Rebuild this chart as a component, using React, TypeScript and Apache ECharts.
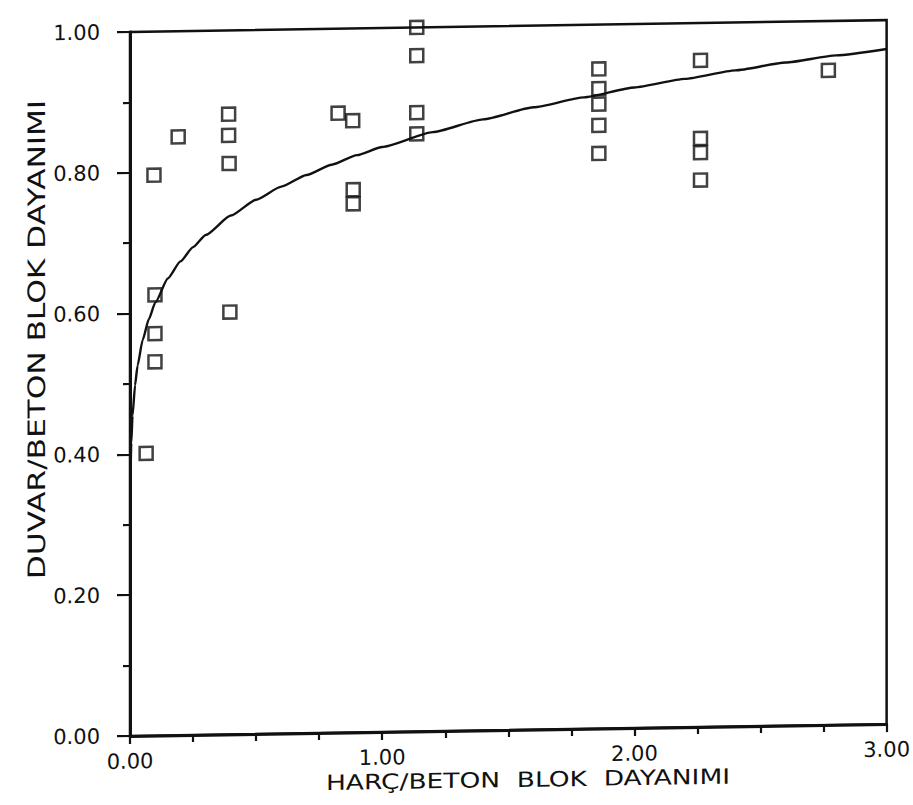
import React, { useEffect, useRef } from "react";
import * as echarts from "echarts";

// Measured points (HARÇ/BETON BLOK DAYANIMI, DUVAR/BETON BLOK DAYANIMI)
const pointX = [
  0.064, 0.095, 0.099, 0.099, 0.099, 0.191, 0.391, 0.391, 0.393, 0.396,
  0.825, 0.883, 0.885, 0.885, 1.137, 1.137, 1.137, 1.137,
  1.859, 1.859, 1.859, 1.859, 1.859, 2.262, 2.262, 2.262, 2.262, 2.769,
];
const pointY = [
  0.401, 0.796, 0.626, 0.571, 0.531, 0.85, 0.881, 0.851, 0.811, 0.6,
  0.88, 0.869, 0.771, 0.751, 1.0, 0.96, 0.879, 0.849,
  0.937, 0.909, 0.887, 0.857, 0.817, 0.947, 0.836, 0.816, 0.777, 0.93,
];

// Fitted curve
const curveX = [
  0.002, 0.005, 0.01, 0.02, 0.03, 0.05, 0.075, 0.1, 0.15, 0.2, 0.25, 0.3,
  0.4, 0.5, 0.6, 0.7, 0.8, 0.9, 1.0, 1.2, 1.4, 1.6, 1.8, 2.0, 2.2, 2.4,
  2.6, 2.8, 3.0,
];
const curveY = [
  0.369, 0.416, 0.455, 0.498, 0.526, 0.562, 0.592, 0.615, 0.649, 0.673,
  0.693, 0.71, 0.737, 0.759, 0.777, 0.793, 0.807, 0.82, 0.831, 0.851,
  0.868, 0.884, 0.897, 0.91, 0.921, 0.932, 0.942, 0.951, 0.959,
];

const xTitle = "HARÇ/BETON  BLOK  DAYANIMI";
const yTitle = "DUVAR/BETON BLOK DAYANIMI";

const FONT = "DejaVu Sans";
const INK = "#111";

export default function App() {
  const ref = useRef<HTMLDivElement>(null);

  useEffect(() => {
    if (!ref.current) return;
    const chart = echarts.init(ref.current, undefined, { renderer: "svg" });
    const option: any = {
      animation: false,
      backgroundColor: "#ffffff",
      grid: {
        left: 130,
        right: 23,
        top: 32,
        bottom: 69,
        show: true,
        borderColor: INK,
        borderWidth: 2.5,
        backgroundColor: "transparent",
      },
      xAxis: {
        type: "value",
        min: 0,
        max: 3,
        interval: 1,
        axisLine: { show: true, lineStyle: { color: INK, width: 3 } },
        axisTick: { show: true, length: 8, lineStyle: { color: INK, width: 2.2 } },
        minorTick: { show: true, splitNumber: 4, length: 7, lineStyle: { color: INK, width: 2.2 } },
        splitLine: { show: false },
        minorSplitLine: { show: false },
        axisLabel: {
          margin: 15,
          color: INK,
          fontFamily: FONT,
          fontSize: 21,
          formatter: (v: number) => v.toFixed(2),
        },
      },
      yAxis: {
        type: "value",
        min: 0,
        max: 1,
        interval: 0.2,
        axisLine: { show: true, lineStyle: { color: INK, width: 3 } },
        axisTick: { show: true, length: 13, lineStyle: { color: INK, width: 2.2 } },
        minorTick: { show: true, splitNumber: 2, length: 7, lineStyle: { color: INK, width: 2.2 } },
        splitLine: { show: false },
        minorSplitLine: { show: false },
        axisLabel: {
          margin: 30,
          color: INK,
          fontFamily: FONT,
          fontSize: 21,
          formatter: (v: number) => v.toFixed(2),
        },
      },
      graphic: [
        {
          type: "text",
          x: 528,
          y: 786,
          scaleX: 1.26,
          style: {
            text: xTitle,
            fill: INK,
            fontFamily: FONT,
            fontSize: 21,
            textAlign: "center",
            textVerticalAlign: "middle",
          },
        },
        {
          type: "text",
          x: 37,
          y: 338,
          rotation: Math.PI / 2,
          scaleX: 1.3,
          style: {
            text: yTitle,
            fill: INK,
            fontFamily: FONT,
            fontSize: 24,
            textAlign: "center",
            textVerticalAlign: "middle",
          },
        },
      ],
      series: [
        {
          type: "line",
          data: curveX.map((x, i) => [x, curveY[i]]),
          symbol: "none",
          smooth: 0.2,
          smoothMonotone: "x",
          lineStyle: { color: INK, width: 2.4 },
          z: 2,
        },
        {
          type: "scatter",
          data: pointX.map((x, i) => [x, pointY[i]]),
          symbol: "rect",
          symbolSize: 13,
          clip: false,
          itemStyle: {
            color: "rgba(0,0,0,0)",
            borderColor: INK,
            borderWidth: 2.5,
          },
          z: 3,
        },
      ],
    };
    chart.setOption(option);
    return () => chart.dispose();
  }, []);

  return (
    <div
      ref={ref}
      style={{
        position: "absolute",
        left: 0,
        top: 0,
        width: 913,
        height: 805,
        background: "#fff",
        transform: "skewY(-0.9deg)",
        transformOrigin: "130px 736px",
      }}
    />
  );
}
